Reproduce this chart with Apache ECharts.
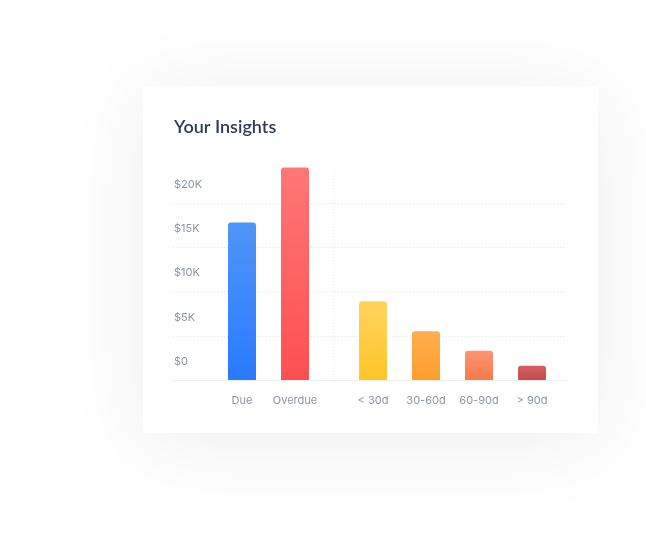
<!DOCTYPE html>
<html>
<head>
<meta charset="utf-8">
<script src="https://cdn.jsdelivr.net/npm/echarts@6/dist/echarts.min.js"></script>
<style>
html,body{margin:0;padding:0;background:#ffffff;}
#chart{width:646px;height:542px;}
</style>
</head>
<body>
<div id="chart"></div>
<script>
// ---- data ----
var titleText = 'Your Insights';
var statusCategories = ['Due', 'Overdue'];
var statusValues = [17800, 24000];
var agingCategories = ['< 30d', '30-60d', '60-90d', '> 90d'];
var agingValues = [8900, 5500, 3300, 1600];
var yTickValues = [0, 5000, 10000, 15000, 20000];

// ---- styles ----
var statusColors = [['#4f95f8', '#2a7aff'], ['#ff7676', '#ff4f4f']];
var agingColors = [['#ffd35e', '#ffc628'], ['#ffaf50', '#ff9d2b'], ['#fd9473', '#f77a4b'], ['#d45f5f', '#c64a4a']];

function grad(c) {
  return new echarts.graphic.LinearGradient(0, 0, 0, 1, [
    { offset: 0, color: c[0] }, { offset: 1, color: c[1] }
  ]);
}
function toItems(vals, cols) {
  return vals.map(function (v, i) {
    return { value: v, itemStyle: { color: grad(cols[i]) } };
  });
}

var W = 646, H = 542;
var plotLeft = 173, plotRight = 566, plotBottom = 380, plotTop = 158.75;
var band = 53;
var yMax = 25000;

var chart = echarts.init(document.getElementById('chart'), null, { renderer: 'canvas' });
var labelStyle = { color: '#8c95a6', fontSize: 11, fontFamily: 'Inter' };

var option = {
  backgroundColor: '#ffffff',
  animation: false,
  title: {
    text: titleText,
    left: 174, top: 118, padding: 0,
    textStyle: { fontFamily: 'Lato', fontSize: 18, fontWeight: 600, color: '#2e3a59' }
  },
  graphic: [
    {
      type: 'rect', z: -10,
      shape: { x: 143, y: 86, width: 455, height: 347 },
      style: { fill: '#ffffff', shadowBlur: 80, shadowColor: 'rgba(0,0,0,0.07)', shadowOffsetY: 8 }
    },
    {
      type: 'line', z: 1,
      shape: { x1: 334, y1: 173, x2: 334, y2: plotBottom },
      style: { stroke: '#e3e6ea', lineWidth: 1, lineDash: [1, 2] }
    }
  ],
  grid: [
    { left: plotLeft, width: plotRight - plotLeft, top: plotTop, bottom: H - plotBottom },
    { left: 215.5, width: band * statusCategories.length, top: plotTop, bottom: H - plotBottom },
    { left: 346.5, width: band * agingCategories.length, top: plotTop, bottom: H - plotBottom }
  ],
  xAxis: [
    { type: 'category', gridIndex: 0, data: [''], axisLine: { show: true, lineStyle: { color: '#eceef1', width: 1 } }, axisTick: { show: false }, axisLabel: { show: false } },
    { type: 'category', gridIndex: 1, data: statusCategories, axisLine: { show: false }, axisTick: { show: false }, axisLabel: Object.assign({ margin: 15, interval: 0, hideOverlap: false }, labelStyle) },
    { type: 'category', gridIndex: 2, data: agingCategories, axisLine: { show: false }, axisTick: { show: false }, axisLabel: Object.assign({ margin: 15, interval: 0, hideOverlap: false }, labelStyle) }
  ],
  yAxis: [
    {
      type: 'value', gridIndex: 0, min: 0, max: yMax, interval: 5000,
      axisLine: { show: false }, axisTick: { show: false },
      splitLine: { show: true, showMinLine: false, showMaxLine: false, lineStyle: { color: '#dfe2e7', type: [1, 2], width: 1 } },
      axisLabel: Object.assign({
        inside: true, margin: 1, showMaxLabel: false, verticalAlign: 'bottom', padding: [0, 0, 13, 0],
        formatter: function (v) { return yTickValues.indexOf(v) < 0 ? '' : '$' + (v === 0 ? '0' : (v / 1000) + 'K'); }
      }, labelStyle)
    },
    { type: 'value', gridIndex: 1, min: 0, max: yMax, show: false },
    { type: 'value', gridIndex: 2, min: 0, max: yMax, show: false }
  ],
  series: [
    {
      type: 'bar', xAxisIndex: 1, yAxisIndex: 1, barWidth: 28,
      itemStyle: { borderRadius: [3, 3, 0, 0] },
      data: toItems(statusValues, statusColors)
    },
    {
      type: 'bar', xAxisIndex: 2, yAxisIndex: 2, barWidth: 28,
      itemStyle: { borderRadius: [3, 3, 0, 0] },
      data: toItems(agingValues, agingColors)
    }
  ]
};
chart.setOption(option);
</script>
</body>
</html>
